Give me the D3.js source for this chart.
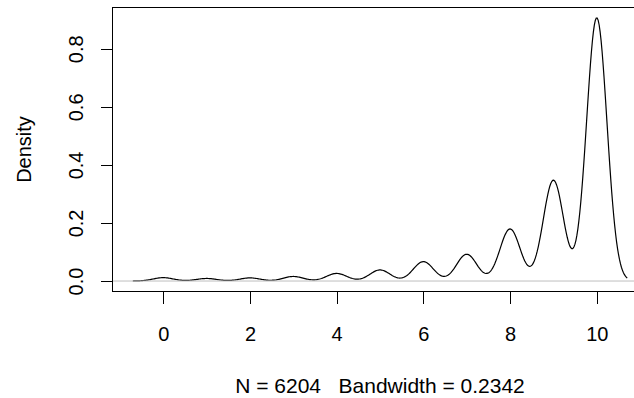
<!DOCTYPE html>
<html>
<head>
<meta charset="utf-8">
<script src="https://cdn.jsdelivr.net/npm/d3@7"></script>
<style>
  html, body { margin: 0; padding: 0; background: #fff; }
  svg text { font-family: "Liberation Sans", Arial, sans-serif; fill: #000; }
</style>
</head>
<body>
<svg id="chart" width="634" height="398"></svg>
<script>
// ---- data (observed values 0..10 and their counts, read from the density peaks) ----
const values = [0, 1, 2, 3, 4, 5, 6, 7, 8, 9, 10];
const counts = [42, 32, 39, 57, 95, 139, 243, 336, 653, 1265, 3303];
const bandwidth = 0.2342;
const xTicks = [0, 2, 4, 6, 8, 10];
const yTicks = [0, 0.2, 0.4, 0.6, 0.8];
const yLabel = "Density";

const N = d3.sum(counts);
const subText = "N = " + N + "   Bandwidth = " + bandwidth;

// ---- Gaussian kernel density estimate, as R's density() (cut = 3, n = 512) ----
const lo = d3.min(values) - 3 * bandwidth;
const hi = d3.max(values) + 3 * bandwidth;
const gridN = 512;
const grid = d3.range(gridN).map(i => lo + (hi - lo) * i / (gridN - 1));
const norm = 1 / (N * bandwidth * Math.sqrt(2 * Math.PI));
const dens = grid.map(g => {
  let s = 0;
  for (let i = 0; i < values.length; i++) {
    const z = (g - values[i]) / bandwidth;
    s += counts[i] * Math.exp(-0.5 * z * z);
  }
  return [g, s * norm];
});

// ---- layout ----
const svg = d3.select("#chart");
const pLeft = 113, pRight = 647, pTop = 7.5, pBottom = 291.5;

const xr = [lo, hi];
const xpad = 0.04 * (xr[1] - xr[0]);
const x = d3.scaleLinear().domain([xr[0] - xpad, xr[1] + xpad]).range([pLeft, pRight]);
const yr = d3.extent(dens, d => d[1]);
const ypad = 0.04 * (yr[1] - yr[0]);
const y = d3.scaleLinear().domain([yr[0] - ypad, yr[1] + ypad]).range([pBottom, pTop]);

svg.append("rect").attr("width", 634).attr("height", 398).attr("fill", "#fff");

// density curve
svg.append("path")
  .datum(dens)
  .attr("fill", "none")
  .attr("stroke", "#000")
  .attr("stroke-width", 1.2)
  .attr("d", d3.line().x(d => x(d[0])).y(d => y(d[1])));

// zero line (drawn after, like R)
svg.append("line")
  .attr("x1", pLeft).attr("x2", pRight)
  .attr("y1", y(0)).attr("y2", y(0))
  .attr("stroke", "#bebebe").attr("stroke-width", 1);

// box
svg.append("rect")
  .attr("x", pLeft - 0.5).attr("y", pTop)
  .attr("width", pRight - pLeft).attr("height", pBottom - pTop)
  .attr("fill", "none").attr("stroke", "#000").attr("stroke-width", 1)
  .attr("shape-rendering", "crispEdges");

// x axis
const gx = svg.append("g")
  .attr("transform", `translate(0,${pBottom})`)
  .call(d3.axisBottom(x).tickValues(xTicks).tickSize(12).tickSizeOuter(0).tickFormat(d3.format("d")));
gx.select(".domain").remove();
gx.selectAll(".tick line").attr("stroke", "#000").attr("shape-rendering", "crispEdges");
gx.selectAll(".tick text")
  .attr("y", 49.5).attr("dy", 0)
  .style("font-size", "20px")
  .attr("text-anchor", "middle");

// y axis
const gy = svg.append("g")
  .attr("transform", `translate(${pLeft - 0.5},0)`)
  .call(d3.axisLeft(y).tickValues(yTicks).tickSize(12).tickSizeOuter(0).tickFormat(d3.format(".1f")));
gy.select(".domain").remove();
gy.selectAll(".tick line").attr("stroke", "#000").attr("shape-rendering", "crispEdges");
gy.selectAll(".tick text")
  .attr("x", 0).attr("y", 0).attr("dy", 0)
  .attr("text-anchor", "middle")
  .attr("transform", "translate(-30,0) rotate(-90)")
  .style("font-size", "20px");

// axis titles
svg.append("text")
  .attr("transform", `translate(31,${(pTop + pBottom) / 2}) rotate(-90)`)
  .attr("text-anchor", "middle")
  .style("font-size", "20px")
  .text(yLabel);

svg.append("text")
  .attr("x", (pLeft + pRight) / 2).attr("y", 393)
  .attr("text-anchor", "middle")
  .style("font-size", "21px")
  .style("white-space", "pre")
  .text(subText);
</script>
</body>
</html>
